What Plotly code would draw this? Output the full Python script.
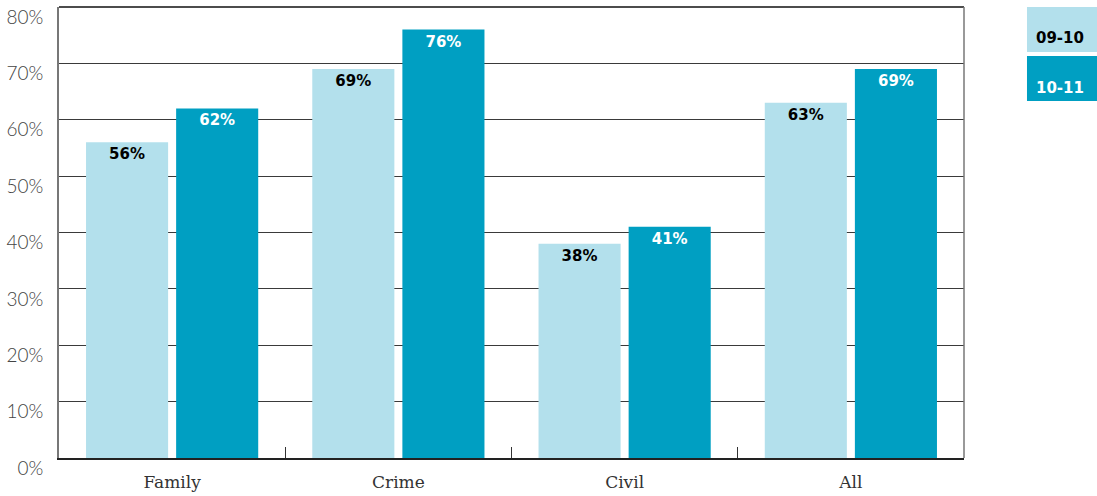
import plotly.graph_objects as go

categories = ["Family", "Crime", "Civil", "All"]
series_names = ["09-10", "10-11"]
values_0910 = [56, 69, 38, 63]
values_1011 = [62, 76, 41, 69]
y_ticks = [0, 10, 20, 30, 40, 50, 60, 70, 80]

light = "#b3e0ec"
dark = "#009fc2"
bold_font = "DejaVu Sans"

fig = go.Figure()
for name, vals, col, tcol in [
    (series_names[0], values_0910, light, "#000000"),
    (series_names[1], values_1011, dark, "#ffffff"),
]:
    fig.add_trace(go.Bar(
        x=categories, y=vals, name=name, marker=dict(color=col, line=dict(width=0)),
        text=[f"{v}%" for v in vals], textposition="inside", insidetextanchor="end",
        textfont=dict(family=bold_font, size=15, color=tcol, weight="bold"),
        textangle=0, cliponaxis=False, showlegend=False,
    ))

fig.update_layout(
    width=1097, height=496,
    margin=dict(l=59, r=133, t=7, b=38),
    paper_bgcolor="white", plot_bgcolor="white",
    barmode="group", bargap=0.2035, bargroupgap=0.0889,
    uniformtext=dict(minsize=15, mode="show"),
    xaxis=dict(
        type="category", tickson="boundaries", ticks="inside", ticklen=11,
        tickcolor="#333", showline=True, linecolor="#222", linewidth=1.5,
        mirror=False, showgrid=False, ticklabelstandoff=8, automargin=False,
        tickfont=dict(family="DejaVu Serif", size=17, color="#333", weight=300),
    ),
    yaxis=dict(
        range=[0, 80], tickvals=y_ticks, ticktext=[f"{t}%" for t in y_ticks],
        showgrid=True, gridcolor="#3a3a3a", gridwidth=1,
        showline=True, linecolor="#777", linewidth=1.5, zeroline=False,
        ticks="", ticklabelstandoff=10, ticklabelshift=10,
        ticklabeloverflow="allow", automargin=False,
        tickfont=dict(family="Lato", size=19, color="#444", weight=300),
    ),
    shapes=[
        dict(type="line", xref="paper", yref="paper", x0=0, x1=1, y0=1, y1=1,
             line=dict(color="#111", width=1.5)),
        dict(type="line", xref="paper", yref="paper", x0=1, x1=1, y0=0, y1=1,
             line=dict(color="#777", width=1.5)),
        dict(type="rect", xref="paper", yref="paper", x0=1.0696, x1=1.1470,
             y0=1 - 45 / 451, y1=1, fillcolor=light, line=dict(width=0)),
        dict(type="rect", xref="paper", yref="paper", x0=1.0696, x1=1.1470,
             y0=1 - 94 / 451, y1=1 - 49 / 451, fillcolor=dark, line=dict(width=0)),
    ],
    annotations=[
        dict(xref="paper", yref="paper", x=1.0775, y=1 - 31 / 451, xanchor="left",
             yanchor="middle", text=series_names[0], showarrow=False,
             font=dict(family=bold_font, size=15, color="#000", weight="bold")),
        dict(xref="paper", yref="paper", x=1.0775, y=1 - 81 / 451, xanchor="left",
             yanchor="middle", text=series_names[1], showarrow=False,
             font=dict(family=bold_font, size=15, color="#fff", weight="bold")),
    ],
)

fig.write_html("out.html")
